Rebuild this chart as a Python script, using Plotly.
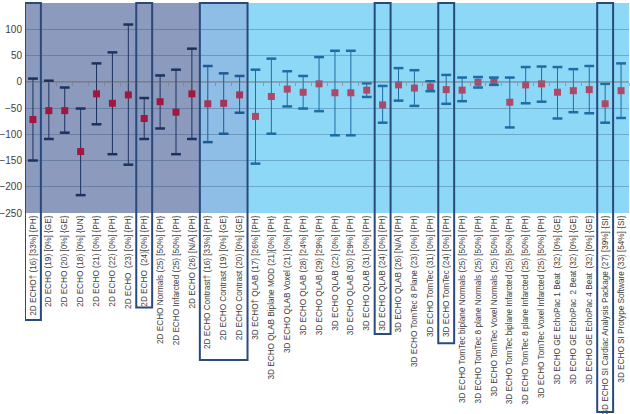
import plotly.graph_objects as go

# category labels, left to right
labels = [
    "2D ECHO† (16) [33%] {PH}",
    "2D ECHO (19) [0%] {GE}",
    "2D ECHO (20) [0%] {GE}",
    "2D ECHO (18) [0%] {UN}",
    "2D ECHO (21) [0%] {PH}",
    "2D ECHO (22) [0%] {PH}",
    "2D ECHO  (23) [0%] {PH}",
    "2D ECHO  (24)[0%] {PH}",
    "2D ECHO Normals (25) [50%] {PH}",
    "2D ECHO Infarcted (25) [50%] {PH}",
    "2D ECHO (26) [N/A] {PH}",
    "2D ECHO Contrast† (16) [33%] {PH}",
    "2D ECHO Contrast (19) [0%] {GE}",
    "2D ECHO Contrast (20) [0%] {GE}",
    "3D ECHO† QLAB (17) [26%] {PH}",
    "3D ECHO QLAB Biplane MOD (21)[0%] {PH}",
    "3D ECHO QLAB Voxel (21) [0%] {PH}",
    "3D ECHO QLAB (28) [24%] {PH}",
    "3D ECHO QLAB (29) [29%] {PH}",
    "3D ECHO QLAB (22) [0%] {PH}",
    "3D ECHO QLAB (30) [29%] {PH}",
    "3D ECHO QLAB (31) [0%] {PH}",
    "3D ECHO QLAB (24) [0%] {PH}",
    "3D ECHO QLAB (26) [N/A] {PH}",
    "3D ECHO TomTec 8 Plane (23) [0%] {PH}",
    "3D ECHO TomTec (31) [0%] {PH}",
    "3D ECHO TomTec (24) [0%] {PH}",
    "3D ECHO TomTec biplane Normals (25) [50%] {PH}",
    "3D ECHO TomTec 8 plane Normals (25) [50%] {PH}",
    "3D ECHO TomTec Voxel Normals (25) [50%] {PH}",
    "3D ECHO TomTec biplane Infarcted (25) [50%] {PH}",
    "3D ECHO TomTec 8 plane Infarcted (25) [50%] {PH}",
    "3D ECHO TomTec Voxel Infarcted (25) [50%] {PH}",
    "3D ECHO GE EchoPac 1 Beat  (32) [0%] {GE}",
    "3D ECHO GE EchoPac  2 Beat (32) [0%] {GE}",
    "3D ECHO GE EchoPac 4 Beat  (32) [0%] {GE}",
    "3D ECHO SI Cardiac Analysis Package (27) [39%] {SI}",
    "3D ECHO SI Protype Software (33) [54%] {SI}",
]

# mean bias and limits of agreement
mean = [-72, -55, -55, -133, -23, -41, -25, -70, -38, -58, -23,
        -42, -41, -25,
        -66, -28, -14, -20, -4, -21, -21, -16, -44, -6, -12, -10, -15,
        -16, -1, 1, -39, -6, -4, -20, -17, -15, -42, -17]
upper = [6, 2, -11, -51, 35, 56, 109, -31, 12, 23, 63,
         30, 16, 11,
         23, 44, 20, 11, 47, 59, 59, -3, -8, 26, 22, 1, 13,
         8, 9, 8, 8, 28, 29, 28, 24, 30, -4, 35]
lower = [-150, -109, -97, -216, -81, -138, -158, -109, -89, -138, -109,
         -115, -99, -59,
         -156, -99, -47, -51, -56, -102, -102, -29, -78, -36, -46, -18, -42,
         -37, -11, -6, -87, -41, -38, -70, -58, -60, -78, -69]

yticks = [150, 100, 50, 0, -50, -100, -150, -200, -250]

# groups: (first, last, panel colour, marker colour, whisker colour)
groups = [
    (0, 10, "#8b9abd", "#a3173f", "#1b3260"),
    (11, 13, "#8ebde6", "#a2365a", "#1f5a94"),
    (14, 37, "#8dd8f7", "#ad4868", "#1d6ca6"),
]

# outlined columns: (first, last, bottom in paper coords)
boxes = [(0, 0, -0.51), (7, 7, -0.45), (11, 13, -0.70),
         (22, 22, -0.576), (26, 26, -0.62), (36, 36, -0.948)]

xs = list(range(len(labels)))

fig = go.Figure()
shapes = []
for first, last, panel, mcol, wcol in groups:
    shapes.append(dict(type="rect", xref="x", yref="paper", layer="below",
                       x0=first - 0.5, x1=last + 0.5, y0=0, y1=1,
                       fillcolor=panel, line=dict(width=0)))
    idx = list(range(first, last + 1))
    gx = [xs[i] for i in idx]
    fig.add_trace(go.Scatter(
        x=gx, y=[mean[i] for i in idx], mode="markers",
        marker=dict(symbol="square", size=7, color=mcol),
        error_y=dict(type="data", symmetric=False,
                     array=[upper[i] - mean[i] for i in idx],
                     arrayminus=[mean[i] - lower[i] for i in idx],
                     color=wcol, thickness=1, width=0),
        showlegend=False, hoverinfo="skip",
    ))
    fig.add_trace(go.Scatter(
        x=gx + gx, y=[upper[i] for i in idx] + [lower[i] for i in idx],
        mode="markers",
        marker=dict(symbol="line-ew", size=7, line=dict(width=2.5, color=wcol)),
        showlegend=False, hoverinfo="skip",
    ))

for first, last, bottom in boxes:
    shapes.append(dict(type="rect", xref="x", yref="paper", layer="above",
                       x0=first - 0.5, x1=last + 0.5, y0=bottom, y1=1,
                       line=dict(color="#284a7c", width=2)))

# helper trace for the zero axis with boundary ticks
fig.add_trace(go.Scatter(x=xs, y=mean, xaxis="x2", mode="markers",
                         marker=dict(opacity=0), showlegend=False,
                         hoverinfo="skip"))

fnt = "Liberation Sans, Arial, sans-serif"
fig.update_layout(
    width=630, height=414,
    margin=dict(l=25, r=1, t=3, b=201, autoexpand=False),
    paper_bgcolor="white", plot_bgcolor="white",
    shapes=shapes,
    font=dict(family=fnt, color="#404040"),
    xaxis=dict(range=[-0.5, len(labels) - 0.5], tickvals=xs, ticktext=labels,
               tickangle=-90, tickfont=dict(size=8.2), showgrid=False,
               zeroline=False, ticks="", automargin=False),
    xaxis2=dict(overlaying="x", matches="x", anchor="free", position=0.625,
                tickvals=[x - 0.5 for x in xs] + [len(xs) - 0.5],
                showticklabels=False, ticks="outside", ticklen=3,
                tickcolor="rgba(120,120,120,0.6)", showline=True,
                linecolor="rgba(120,120,120,0.5)", showgrid=False,
                zeroline=False, automargin=False),
    yaxis=dict(range=[-250, 150], tickvals=yticks, tickfont=dict(size=10),
               gridcolor="rgba(30,60,100,0.3)", zeroline=False,
               automargin=False, ticklabelstandoff=2),
)

fig.write_html("out.html", config={"displayModeBar": False},
               post_script="document.body.style.margin='0';"
                           "document.body.style.overflow='hidden';")
